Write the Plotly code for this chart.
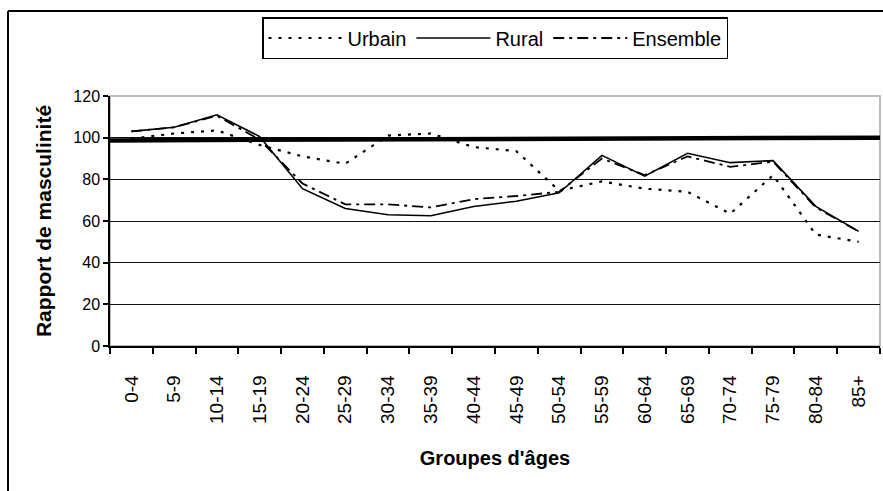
import plotly.graph_objects as go

categories = ["0-4", "5-9", "10-14", "15-19", "20-24", "25-29", "30-34", "35-39", "40-44",
              "45-49", "50-54", "55-59", "60-64", "65-69", "70-74", "75-79", "80-84", "85+"]
urbain = [99.5, 102, 103.5, 96.5, 91, 87.5, 101, 102, 95.5, 93.5, 74.5, 79, 75.5, 74, 63.5, 82, 53.5, 50]
rural = [103, 105, 111, 100.5, 75.5, 66, 63, 62.5, 67, 69.5, 73.5, 91.5, 81.5, 92.5, 88, 89, 67, 55]
ensemble = [103, 105, 110.5, 99, 78, 68, 68, 66.5, 70.5, 72, 74, 90, 82, 91, 86, 88.5, 66.5, 55]
ref_span = [0, 1]
ref_values = [98.7, 100]
y_ticks = [0, 20, 40, 60, 80, 100, 120]

W, H = 883, 491
L, R, T, B = 110, 3, 96, 145
pw, ph = W - L - R, H - T - B

def px(x):
    return (x - L) / pw

def py(y):
    return (H - B - y) / ph

FONT = "Liberation Sans, Arial, sans-serif"

fig = go.Figure()
fig.add_trace(go.Scatter(x=categories, y=urbain, name="Urbain", mode="lines",
                         line=dict(color="black", width=2.2, dash="3px,7px")))
fig.add_trace(go.Scatter(x=categories, y=rural, name="Rural", mode="lines",
                         line=dict(color="black", width=1.6)))
fig.add_trace(go.Scatter(x=categories, y=ensemble, name="Ensemble", mode="lines",
                         line=dict(color="black", width=1.8, dash="11px,5px,3px,5px")))
fig.add_trace(go.Scatter(x=ref_span, y=ref_values, xaxis="x2", mode="lines", showlegend=False,
                         line=dict(color="black", width=4.5), hoverinfo="skip"))

fig.update_layout(
    width=W, height=H,
    margin=dict(l=L, r=R, t=T, b=B, autoexpand=False),
    paper_bgcolor="white", plot_bgcolor="white",
    font=dict(family=FONT, color="black"),
    showlegend=True,
    legend=dict(orientation="h", x=0.5, xanchor="center", y=py(17), yanchor="top",
                bordercolor="black", borderwidth=1.5, bgcolor="white",
                font=dict(size=20, family=FONT), itemwidth=74,
                traceorder="normal"),
    xaxis=dict(type="category", range=[-0.5, len(categories) - 0.5],
               tickson="boundaries", ticks="outside", ticklen=6,
               tickcolor="black", tickwidth=1.5, showline=True, linecolor="black", linewidth=1.5,
               tickangle=-90, tickfont=dict(size=19, family=FONT), ticklabelstandoff=20,
               showgrid=False, automargin=False,
               title=dict(text="Groupes d'âges", font=dict(size=20, family=FONT, weight="bold"),
                          standoff=28)),
    xaxis2=dict(overlaying="x", range=[0, 1], visible=False),
    yaxis=dict(range=[0, 120], tickvals=y_ticks, ticks="outside", ticklen=5, tickcolor="black",
               tickwidth=1.5, showline=True, linecolor="black", linewidth=1.5,
               showgrid=True, gridcolor="#111111", gridwidth=1, zeroline=False,
               tickfont=dict(size=16, family=FONT), automargin=False,
               title=dict(text="Rapport de masculinité",
                          font=dict(size=21, family=FONT, weight="bold"), standoff=16)),
    shapes=[
        dict(type="rect", xref="paper", yref="paper", x0=0, x1=1, y0=0, y1=1,
             line=dict(color="#bdbdbd", width=2), layer="below"),
        dict(type="line", xref="paper", yref="paper", x0=px(8), x1=px(W + 20), y0=py(11), y1=py(11),
             line=dict(color="black", width=2)),
        dict(type="line", xref="paper", yref="paper", x0=px(8), x1=px(8), y0=py(11), y1=py(H + 20),
             line=dict(color="black", width=2)),
    ],
)

fig.write_html("out.html", config={"displayModeBar": False},
               post_script="document.body.style.margin='0';document.body.style.overflow='hidden';")
